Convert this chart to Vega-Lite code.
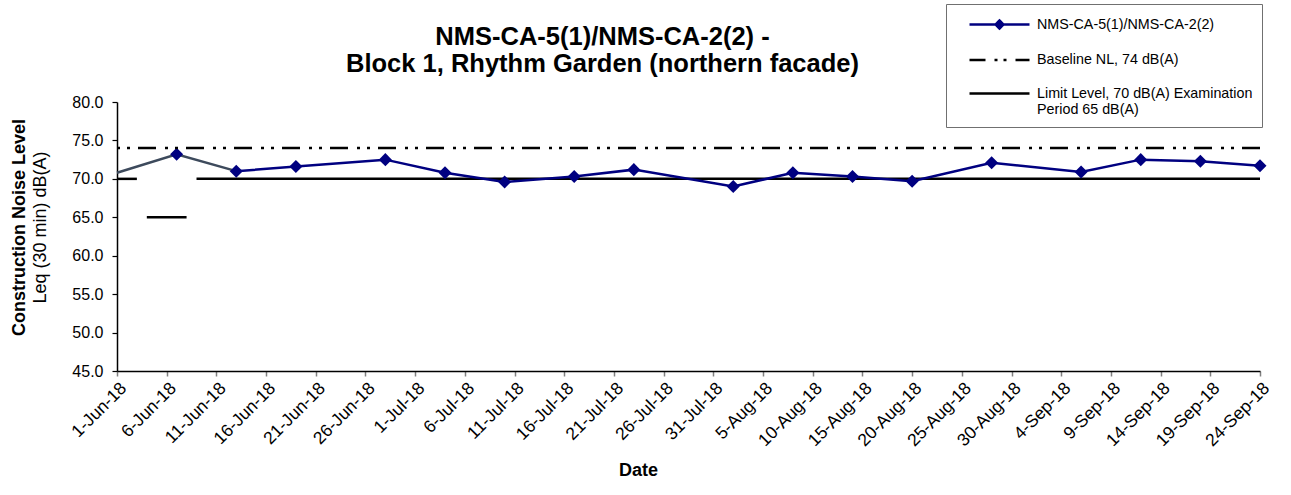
{
  "$schema": "https://vega.github.io/schema/vega-lite/v6.json",
  "width": 1143,
  "height": 269,
  "autosize": "none",
  "padding": {"left": 117, "top": 102, "right": 31, "bottom": 124},
  "background": "white",
  "config": {
    "font": "Liberation Sans",
    "view": {"stroke": null},
    "axis": {"grid": false}
  },
  "title": {
    "text": ["NMS-CA-5(1)/NMS-CA-2(2) -", "Block 1, Rhythm Garden (northern facade)"],
    "fontSize": 25.5,
    "fontWeight": "bold",
    "font": "Liberation Sans",
    "color": "#000000",
    "lineHeight": 27,
    "anchor": "middle",
    "baseline": "bottom",
    "dx": -86,
    "dy": 121,
    "offset": 22
  },
  "datasets": {
    "series": [
      {"date": "2018/06/01", "level": 70.8},
      {"date": "2018/06/07", "level": 73.2},
      {"date": "2018/06/13", "level": 71.0},
      {"date": "2018/06/19", "level": 71.6},
      {"date": "2018/06/28", "level": 72.5},
      {"date": "2018/07/04", "level": 70.8},
      {"date": "2018/07/10", "level": 69.6},
      {"date": "2018/07/17", "level": 70.3},
      {"date": "2018/07/23", "level": 71.2},
      {"date": "2018/08/02", "level": 69.0},
      {"date": "2018/08/08", "level": 70.8},
      {"date": "2018/08/14", "level": 70.3},
      {"date": "2018/08/20", "level": 69.7},
      {"date": "2018/08/28", "level": 72.1},
      {"date": "2018/09/06", "level": 70.9},
      {"date": "2018/09/12", "level": 72.5},
      {"date": "2018/09/18", "level": 72.3},
      {"date": "2018/09/24", "level": 71.7}
    ],
    "limit": [
      {"date": "2018/06/01", "level": 70, "seg": "a"},
      {"date": "2018/06/03", "level": 70, "seg": "a"},
      {"date": "2018/06/04", "level": 65, "seg": "b"},
      {"date": "2018/06/08", "level": 65, "seg": "b"},
      {"date": "2018/06/09", "level": 70, "seg": "c"},
      {"date": "2018/09/24", "level": 70, "seg": "c"}
    ],
    "baseline": [{"level": 74}]
  },
  "layer": [
    {
      "layer": [
        {
          "data": {"name": "limit"},
          "mark": {"type": "line", "strokeWidth": 2.5, "clip": false},
          "encoding": {
            "x": {"field": "date", "type": "temporal"},
            "y": {"field": "level", "type": "quantitative"},
            "detail": {"field": "seg"},
            "color": {"datum": "Limit Level, 70 dB(A) Examination Period  65 dB(A)"}
          }
        },
        {
          "data": {"name": "series"},
          "transform": [{"filter": {"field": "date", "lte": {"year": 2018, "month": "Jun", "date": 13}}}],
          "mark": {"type": "line", "strokeWidth": 2.5, "color": "#3d4a5c"},
          "encoding": {
            "x": {"field": "date", "type": "temporal"},
            "y": {"field": "level", "type": "quantitative"}
          }
        },
        {
          "data": {"name": "series"},
          "transform": [{"filter": {"field": "date", "gte": {"year": 2018, "month": "Jun", "date": 13}}}],
          "mark": {"type": "line", "strokeWidth": 2.5},
          "encoding": {
            "x": {"field": "date", "type": "temporal"},
            "y": {"field": "level", "type": "quantitative"},
            "color": {
              "datum": "NMS-CA-5(1)/NMS-CA-2(2)",
              "scale": {
                "domain": ["NMS-CA-5(1)/NMS-CA-2(2)", "Baseline NL, 74 dB(A)", "Limit Level, 70 dB(A) Examination Period  65 dB(A)"],
                "range": ["#000080", "#000000", "#000000"]
              },
              "legend": {
                "title": null,
                "orient": "none",
                "legendX": 829,
                "legendY": -98,
                "strokeColor": "#707070",
                "padding": 9,
                "symbolSize": 400,
                "symbolOffset": 33,
                "labelOffset": 26,
                "labelFontSize": 14.3,
                "labelFont": "Liberation Sans",
                "labelColor": "#000000",
                "labelLimit": 400,
                "rowPadding": 14.5,
                "labelExpr": "datum.label == 'Limit Level, 70 dB(A) Examination Period  65 dB(A)' ? ['Limit Level, 70 dB(A) Examination', 'Period  65 dB(A)'] : datum.label",
                "encode": {
                  "symbols": {
                    "update": {
                      "shape": {"signal": "datum.value == 'NMS-CA-5(1)/NMS-CA-2(2)' ? 'M-3,0H3M0,-0.4L0.4,0L0,0.4L-0.4,0Z' : 'M-3,0H3'"},
                      "fill": {"signal": "datum.value == 'NMS-CA-5(1)/NMS-CA-2(2)' ? '#000080' : 'transparent'"},
                      "strokeDash": {"signal": "datum.value == 'Baseline NL, 74 dB(A)' ? [16, 9, 3, 6, 3, 9] : [1, 0]"},
                      "strokeWidth": {"value": 2.5},
                      "opacity": {"value": 1}
                    }
                  }
                }
              }
            }
          }
        },
        {
          "data": {"name": "series"},
          "transform": [{"filter": {"field": "date", "gte": {"year": 2018, "month": "Jun", "date": 7}}}],
          "mark": {"type": "point", "shape": "diamond", "filled": true, "size": 170, "color": "#000080", "opacity": 1},
          "encoding": {
            "x": {"field": "date", "type": "temporal"},
            "y": {"field": "level", "type": "quantitative"}
          }
        }
      ],
      "encoding": {
        "x": {
          "field": "date",
          "type": "temporal",
          "scale": {
            "domain": [{"year": 2018, "month": "Jun", "date": 1}, {"year": 2018, "month": "Sep", "date": 24}],
            "nice": false
          },
          "axis": {
            "title": "Date",
            "titleFontSize": 18,
            "titleFontWeight": "bold",
            "titleFont": "Liberation Sans",
            "titleColor": "#000000",
            "titleX": 521,
            "titleY": 99,
            "titleAlign": "center",
            "titleBaseline": "middle",
            "format": "%-d-%b-%y",
            "values": [
              {"year": 2018, "month": "Jun", "date": 1},
              {"year": 2018, "month": "Jun", "date": 6},
              {"year": 2018, "month": "Jun", "date": 11},
              {"year": 2018, "month": "Jun", "date": 16},
              {"year": 2018, "month": "Jun", "date": 21},
              {"year": 2018, "month": "Jun", "date": 26},
              {"year": 2018, "month": "Jul", "date": 1},
              {"year": 2018, "month": "Jul", "date": 6},
              {"year": 2018, "month": "Jul", "date": 11},
              {"year": 2018, "month": "Jul", "date": 16},
              {"year": 2018, "month": "Jul", "date": 21},
              {"year": 2018, "month": "Jul", "date": 26},
              {"year": 2018, "month": "Jul", "date": 31},
              {"year": 2018, "month": "Aug", "date": 5},
              {"year": 2018, "month": "Aug", "date": 10},
              {"year": 2018, "month": "Aug", "date": 15},
              {"year": 2018, "month": "Aug", "date": 20},
              {"year": 2018, "month": "Aug", "date": 25},
              {"year": 2018, "month": "Aug", "date": 30},
              {"year": 2018, "month": "Sep", "date": 4},
              {"year": 2018, "month": "Sep", "date": 9},
              {"year": 2018, "month": "Sep", "date": 14},
              {"year": 2018, "month": "Sep", "date": 19},
              {"year": 2018, "month": "Sep", "date": 24}
            ],
            "labelAngle": -45,
            "labelFontSize": 17.5,
            "labelFont": "Liberation Sans",
            "labelColor": "#000000",
            "labelPadding": 3,
            "labelOverlap": false,
            "labelFlush": false,
            "tickSize": 5,
            "tickColor": "#808080",
            "tickWidth": 1.5,
            "domainColor": "#000000",
            "domainWidth": 1.5
          }
        },
        "y": {
          "field": "level",
          "type": "quantitative",
          "scale": {"domain": [45, 80], "nice": false, "zero": false},
          "axis": {
            "title": "Leq (30 min) dB(A)",
            "titleFontSize": 18,
            "titleFontWeight": "normal",
            "titleFont": "Liberation Sans",
            "titleColor": "#000000",
            "titleAngle": -90,
            "titleX": -77,
            "titleY": 125,
            "titleAlign": "center",
            "titleBaseline": "middle",
            "values": [45, 50, 55, 60, 65, 70, 75, 80],
            "format": ".1f",
            "labelFontSize": 16,
            "labelFont": "Liberation Sans",
            "labelColor": "#000000",
            "labelPadding": 9,
            "labelFlush": false,
            "tickSize": 5,
            "tickColor": "#000000",
            "tickWidth": 1.2,
            "domainColor": "#000000",
            "domainWidth": 1.5
          }
        }
      }
    },
    {
      "data": {"name": "baseline"},
      "mark": {"type": "rule", "strokeWidth": 2.5, "strokeDash": [18, 8, 3, 7, 3, 9]},
      "encoding": {
        "y": {
          "field": "level",
          "type": "quantitative",
          "scale": {"domain": [45, 80], "nice": false, "zero": false},
          "axis": {
            "orient": "left",
            "title": "Construction Noise Level",
            "titleFontSize": 18,
            "titleFontWeight": "bold",
            "titleFont": "Liberation Sans",
            "titleColor": "#000000",
            "titleAngle": -90,
            "titleX": -98,
            "titleY": 125,
            "titleAlign": "center",
            "titleBaseline": "middle",
            "labels": false,
            "ticks": false,
            "domain": false
          }
        },
        "color": {"datum": "Baseline NL, 74 dB(A)"}
      }
    }
  ],
  "resolve": {"scale": {"y": "independent"}}
}
